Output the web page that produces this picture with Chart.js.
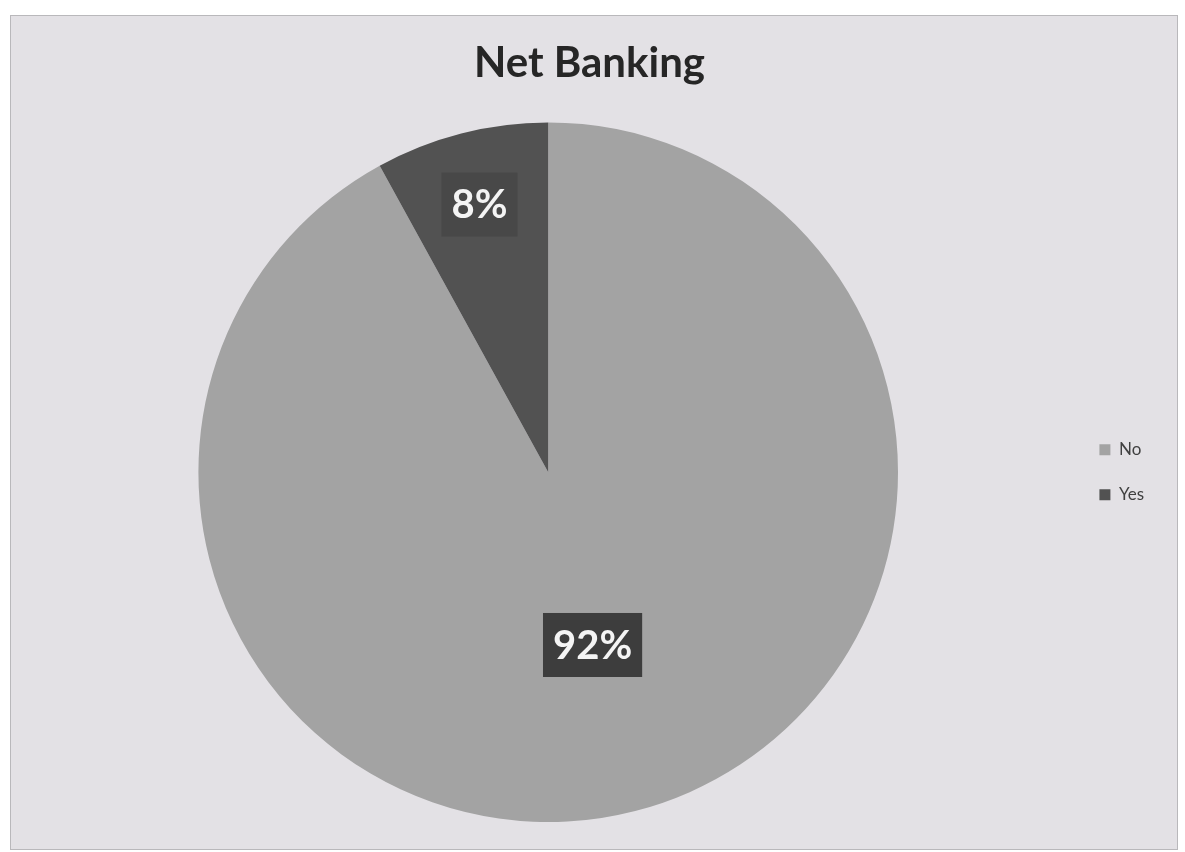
<!DOCTYPE html>
<html>
    <head>
        <title>Net Banking</title>
        <meta charset="UTF-8">
        <script src="https://cdn.jsdelivr.net/npm/chart.js"></script>
        <style>
            html, body {margin: 0; padding: 0; background: #ffffff;}
            #frame {
                position: absolute; left: 10px; top: 15px;
                width: 1166px; height: 833px;
                background: #e3e1e5;
                border: 1px solid #b9b8bb;
            }
            #frame canvas {display: block;}
        </style>
    </head>
    <body>
        <div id="frame"><canvas id="myChart" width="1166" height="833"></canvas></div>
    </body>
    <script>
      // survey answers, share of respondents in percent
      const categories = ['No', 'Yes'];
      const shares = [92, 8];
      const sliceColors = ['#a3a3a3', '#525252'];

      // percent labels sitting on a dark box inside each slice
      const sliceLabels = {
        id: 'sliceLabels',
        afterDatasetsDraw(chart, args, opts) {
          const ctx = chart.ctx;
          const arcs = chart.getDatasetMeta(0).data;
          ctx.save();
          ctx.font = 'bold ' + opts.size + 'px Lato';
          ctx.textAlign = 'center';
          ctx.textBaseline = 'middle';
          arcs.forEach((arc, i) => {
            const p = arc.getProps(['x', 'y', 'startAngle', 'endAngle', 'outerRadius'], true);
            const mid = (p.startAngle + p.endAngle) / 2;
            const r = p.outerRadius * opts.radius[i];
            const cx = p.x + Math.cos(mid) * r;
            const cy = p.y + Math.sin(mid) * r;
            const text = shares[i] + '%';
            const w = ctx.measureText(text).width + opts.padX * 2;
            const h = opts.boxH;
            ctx.fillStyle = opts.boxColor[i];
            ctx.fillRect(cx - w / 2, cy - h / 2, w, h);
            ctx.fillStyle = '#f4f4f4';
            ctx.fillText(text, cx, cy + 1);
          });
          ctx.restore();
        }
      };

      const ctx = document.getElementById('myChart').getContext('2d');
      const chart = new Chart(ctx, {
        type: 'pie',
        data: {
          labels: categories,
          datasets: [{
            data: shares,
            backgroundColor: sliceColors,
            borderWidth: 0
          }]
        },
        plugins: [sliceLabels],
        options: {
          responsive: false,
          animation: false,
          layout: {padding: {left: 14, right: 23, top: 0, bottom: 27}},
          plugins: {
            title: {
              display: true,
              text: 'Net Banking',
              color: '#262626',
              font: {family: 'Lato', size: 42, weight: 'bold'},
              padding: {top: 22, bottom: 34}
            },
            legend: {
              position: 'right',
              fullSize: false,
              labels: {
                boxWidth: 11,
                boxHeight: 11,
                padding: 28,
                color: '#404040',
                font: {family: 'Lato', size: 17}
              }
            },
            tooltip: {enabled: false},
            sliceLabels: {
              size: 40,
              radius: [0.51, 0.79],
              padX: 10,
              boxH: 64,
              boxColor: ['#3d3d3d', '#484848']
            }
          }
        }
      });
    </script>
</html>
